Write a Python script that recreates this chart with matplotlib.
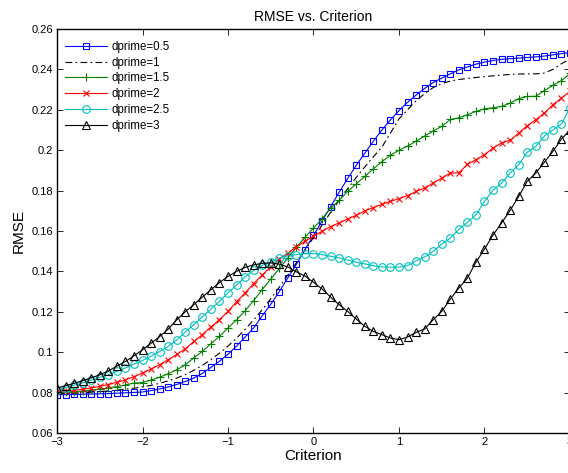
import matplotlib
matplotlib.use('Agg')
import matplotlib.pyplot as plt

# Criterion grid (step 0.1)
criterion = [-3.0, -2.9, -2.8, -2.7, -2.6, -2.5, -2.4, -2.3, -2.2, -2.1,
             -2.0, -1.9, -1.8, -1.7, -1.6, -1.5, -1.4, -1.3, -1.2, -1.1,
             -1.0, -0.9, -0.8, -0.7, -0.6, -0.5, -0.4, -0.3, -0.2, -0.1,
             0.0, 0.1, 0.2, 0.3, 0.4, 0.5, 0.6, 0.7, 0.8, 0.9,
             1.0, 1.1, 1.2, 1.3, 1.4, 1.5, 1.6, 1.7, 1.8, 1.9,
             2.0, 2.1, 2.2, 2.3, 2.4, 2.5, 2.6, 2.7, 2.8, 2.9, 3.0]

rmse_d05 = [0.0790, 0.0790, 0.0791, 0.0792, 0.0793, 0.0794, 0.0795, 0.0797, 0.0799, 0.0801,
            0.0803, 0.0810, 0.0818, 0.0828, 0.0840, 0.0855, 0.0872, 0.0895, 0.0925, 0.0955,
            0.0990, 0.1030, 0.1075, 0.1120, 0.1180, 0.1237, 0.1300, 0.1368, 0.1435, 0.1508,
            0.1578, 0.1650, 0.1720, 0.1792, 0.1860, 0.1925, 0.1985, 0.2044, 0.2100, 0.2150,
            0.2196, 0.2237, 0.2273, 0.2306, 0.2335, 0.2357, 0.2378, 0.2398, 0.2412, 0.2426,
            0.2436, 0.2444, 0.2450, 0.2453, 0.2456, 0.2459, 0.2462, 0.2466, 0.2472, 0.2478, 0.2483]

rmse_d1 = [0.0795, 0.0796, 0.0797, 0.0799, 0.0802, 0.0805, 0.0808, 0.0812, 0.0817, 0.0822,
           0.0828, 0.0836, 0.0846, 0.0858, 0.0872, 0.0889, 0.0910, 0.0935, 0.0963, 0.0995,
           0.1030, 0.1070, 0.1113, 0.1160, 0.1210, 0.1265, 0.1322, 0.1382, 0.1443, 0.1505,
           0.1567, 0.1630, 0.1692, 0.1752, 0.1810, 0.1865, 0.1917, 0.1967, 0.2015, 0.2085,
           0.2155, 0.2200, 0.2245, 0.2280, 0.2310, 0.2330, 0.2342, 0.2350, 0.2355, 0.2360,
           0.2364, 0.2368, 0.2372, 0.2375, 0.2377, 0.2378, 0.2378, 0.2382, 0.2400, 0.2428, 0.2452]

rmse_d15 = [0.0800, 0.0802, 0.0805, 0.0808, 0.0812, 0.0817, 0.0823, 0.0830, 0.0838, 0.0847,
            0.0850, 0.0862, 0.0876, 0.0893, 0.0913, 0.0937, 0.0972, 0.1004, 0.1042, 0.1078,
            0.1120, 0.1160, 0.1205, 0.1255, 0.1310, 0.1362, 0.1415, 0.1466, 0.1520, 0.1568,
            0.1615, 0.1660, 0.1712, 0.1752, 0.1796, 0.1834, 0.1870, 0.1908, 0.1943, 0.1975,
            0.2000, 0.2020, 0.2045, 0.2070, 0.2095, 0.2118, 0.2152, 0.2160, 0.2176, 0.2192,
            0.2205, 0.2210, 0.2217, 0.2233, 0.2255, 0.2266, 0.2267, 0.2295, 0.2321, 0.2344, 0.2380]

rmse_d2 = [0.0806, 0.0809, 0.0812, 0.0817, 0.0823, 0.0831, 0.0840, 0.0851, 0.0863, 0.0879,
           0.0897, 0.0917, 0.0938, 0.0962, 0.0989, 0.1017, 0.1053, 0.1087, 0.1125, 0.1161,
           0.1202, 0.1250, 0.1293, 0.1340, 0.1382, 0.1423, 0.1462, 0.1491, 0.1522, 0.1549,
           0.1575, 0.1598, 0.1622, 0.1640, 0.1660, 0.1677, 0.1700, 0.1716, 0.1732, 0.1747,
           0.1760, 0.1775, 0.1796, 0.1813, 0.1838, 0.1862, 0.1887, 0.1888, 0.1930, 0.1953,
           0.1978, 0.2011, 0.2036, 0.2049, 0.2085, 0.2121, 0.2151, 0.2184, 0.2225, 0.2258, 0.2291]

rmse_d25 = [0.0815, 0.0825, 0.0836, 0.0848, 0.0861, 0.0875, 0.0889, 0.0905, 0.0922, 0.0940,
            0.0959, 0.0980, 0.1003, 0.1029, 0.1060, 0.1100, 0.1136, 0.1175, 0.1213, 0.1251,
            0.1294, 0.1333, 0.1373, 0.1405, 0.1430, 0.1445, 0.1466, 0.1477, 0.1483, 0.1488,
            0.1488, 0.1483, 0.1475, 0.1467, 0.1456, 0.1445, 0.1437, 0.1428, 0.1422, 0.1421,
            0.1421, 0.1428, 0.1452, 0.1471, 0.1499, 0.1535, 0.1565, 0.1608, 0.1643, 0.1680,
            0.1747, 0.1802, 0.1838, 0.1887, 0.1928, 0.1990, 0.2019, 0.2070, 0.2100, 0.2130, 0.2210]

rmse_d3 = [0.0822, 0.0834, 0.0846, 0.0859, 0.0873, 0.0888, 0.0907, 0.0931, 0.0954, 0.0982,
           0.1012, 0.1044, 0.1077, 0.1114, 0.1160, 0.1200, 0.1235, 0.1273, 0.1309, 0.1345,
           0.1375, 0.1400, 0.1420, 0.1432, 0.1440, 0.1442, 0.1436, 0.1422, 0.1398, 0.1377,
           0.1346, 0.1313, 0.1273, 0.1235, 0.1202, 0.1164, 0.1128, 0.1103, 0.1087, 0.1070,
           0.1062, 0.1075, 0.1098, 0.1115, 0.1161, 0.1202, 0.1263, 0.1318, 0.1367, 0.1445,
           0.1511, 0.1580, 0.1640, 0.1702, 0.1771, 0.1846, 0.1887, 0.1940, 0.1994, 0.2055, 0.2100]

labels = ['dprime=0.5', 'dprime=1', 'dprime=1.5', 'dprime=2', 'dprime=2.5', 'dprime=3']

plt.rcParams['font.family'] = ['Liberation Sans', 'DejaVu Sans']

fig = plt.figure(figsize=(5.68, 4.73), dpi=100)
ax = fig.add_axes([57 / 568, 40 / 473, 513 / 568, 404 / 473])

ax.plot(criterion, rmse_d05, '-s', color='#0000ff', lw=0.8, ms=5, mfc='none', mew=0.8, label=labels[0])
ax.plot(criterion, rmse_d1, color='k', lw=0.8, dashes=(6, 3, 1.5, 3), label=labels[1])
ax.plot(criterion, rmse_d15, '-+', color='#008000', lw=0.8, ms=6, mew=0.8, label=labels[2])
ax.plot(criterion, rmse_d2, '-x', color='#ff0000', lw=0.8, ms=5, mew=0.8, label=labels[3])
ax.plot(criterion, rmse_d25, '-o', color='#00bfbf', lw=0.8, ms=5.5, mfc='none', mew=0.8, label=labels[4])
ax.plot(criterion, rmse_d3, '-^', color='k', lw=0.8, ms=6, mfc='none', mew=0.8, label=labels[5])

ax.set_xlim(-3, 3)
ax.set_ylim(0.06, 0.26)
ax.set_xticks([-3, -2, -1, 0, 1, 2, 3])
ax.set_yticks([0.06, 0.08, 0.1, 0.12, 0.14, 0.16, 0.18, 0.2, 0.22, 0.24, 0.26])
ax.set_yticklabels(['0.06', '0.08', '0.1', '0.12', '0.14', '0.16', '0.18', '0.2', '0.22', '0.24', '0.26'])
ax.tick_params(direction='in', top=True, right=True, labelsize=8, length=4, width=0.6, pad=3)
for s in ax.spines.values():
    s.set_linewidth(1.0)

ax.set_title('RMSE vs. Criterion', fontsize=10, pad=6)
ax.set_xlabel('Criterion', fontsize=11, labelpad=1)
ax.set_ylabel('RMSE', fontsize=11, labelpad=4)

ax.legend(loc='upper left', frameon=False, fontsize=8.3, handlelength=3.6,
          labelspacing=0.32, borderaxespad=0.3, handletextpad=0.4,
          bbox_to_anchor=(0.0, 0.99))

fig.savefig('out.png', dpi=100)
